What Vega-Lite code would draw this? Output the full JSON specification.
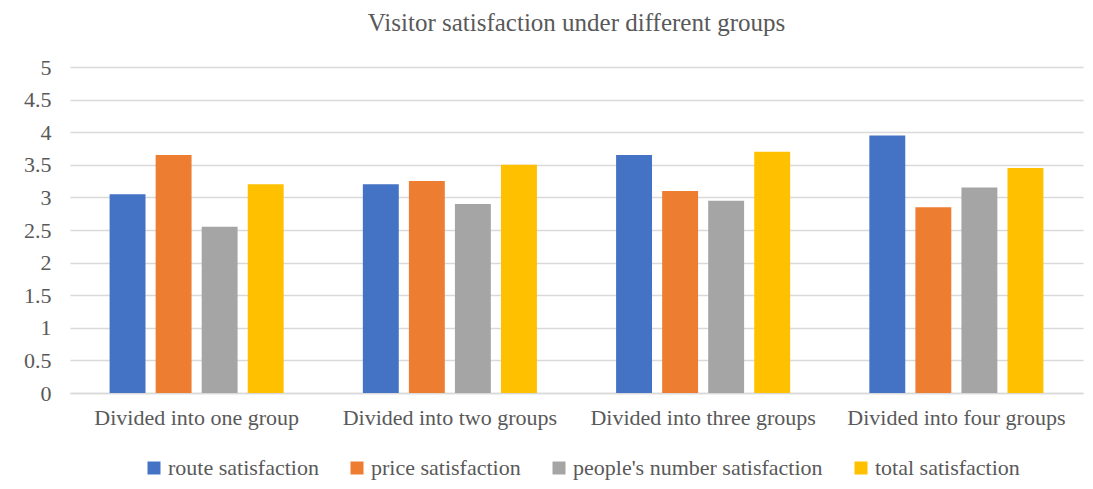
{
  "$schema": "https://vega.github.io/schema/vega-lite/v6.json",
  "width": 1013,
  "height": 326,
  "autosize": {"type": "none"},
  "padding": {"left": 70, "top": 67, "right": 10, "bottom": 96},
  "background": "white",
  "title": {
    "text": "Visitor satisfaction under different groups",
    "font": "Liberation Serif",
    "fontSize": 25,
    "fontWeight": "normal",
    "color": "#595959",
    "anchor": "middle",
    "offset": 20
  },
  "data": {
    "values": [
      {"group": "Divided into one group", "metric": "route satisfaction", "value": 3.05},
      {"group": "Divided into one group", "metric": "price satisfaction", "value": 3.65},
      {"group": "Divided into one group", "metric": "people's number satisfaction", "value": 2.55},
      {"group": "Divided into one group", "metric": "total satisfaction", "value": 3.2},
      {"group": "Divided into two groups", "metric": "route satisfaction", "value": 3.2},
      {"group": "Divided into two groups", "metric": "price satisfaction", "value": 3.25},
      {"group": "Divided into two groups", "metric": "people's number satisfaction", "value": 2.9},
      {"group": "Divided into two groups", "metric": "total satisfaction", "value": 3.5},
      {"group": "Divided into three groups", "metric": "route satisfaction", "value": 3.65},
      {"group": "Divided into three groups", "metric": "price satisfaction", "value": 3.1},
      {"group": "Divided into three groups", "metric": "people's number satisfaction", "value": 2.95},
      {"group": "Divided into three groups", "metric": "total satisfaction", "value": 3.7},
      {"group": "Divided into four groups", "metric": "route satisfaction", "value": 3.95},
      {"group": "Divided into four groups", "metric": "price satisfaction", "value": 2.85},
      {"group": "Divided into four groups", "metric": "people's number satisfaction", "value": 3.15},
      {"group": "Divided into four groups", "metric": "total satisfaction", "value": 3.45}
    ]
  },
  "mark": {"type": "bar"},
  "encoding": {
    "x": {
      "field": "group",
      "type": "nominal",
      "sort": null,
      "scale": {"paddingInner": 0, "paddingOuter": 0},
      "axis": {
        "title": null,
        "labelAngle": 0,
        "labelFont": "Liberation Serif",
        "labelFontSize": 22,
        "labelColor": "#595959",
        "labelPadding": 14,
        "labelLimit": 0,
        "ticks": false,
        "domainColor": "#d9d9d9",
        "domainWidth": 1.5,
        "grid": false
      }
    },
    "xOffset": {
      "field": "metric",
      "type": "nominal",
      "sort": ["route satisfaction", "price satisfaction", "people's number satisfaction", "total satisfaction"],
      "scale": {"paddingInner": 0.22, "paddingOuter": 0.86}
    },
    "y": {
      "field": "value",
      "type": "quantitative",
      "scale": {"domain": [0, 5]},
      "axis": {
        "title": null,
        "values": [0, 0.5, 1, 1.5, 2, 2.5, 3, 3.5, 4, 4.5, 5],
        "format": "~g",
        "labelFont": "Liberation Serif",
        "labelFontSize": 22,
        "labelColor": "#595959",
        "labelPadding": 19,
        "ticks": false,
        "domain": false,
        "gridColor": "#d9d9d9",
        "gridWidth": 1.5
      }
    },
    "color": {
      "field": "metric",
      "type": "nominal",
      "sort": ["route satisfaction", "price satisfaction", "people's number satisfaction", "total satisfaction"],
      "scale": {
        "domain": ["route satisfaction", "price satisfaction", "people's number satisfaction", "total satisfaction"],
        "range": ["#4472c4", "#ed7d31", "#a5a5a5", "#ffc000"]
      },
      "legend": {
        "title": null,
        "orient": "none",
        "legendX": 73,
        "legendY": 390,
        "direction": "horizontal",
        "symbolType": "square",
        "symbolSize": 169,
        "symbolStrokeWidth": 0,
        "labelFont": "Liberation Serif",
        "labelFontSize": 22,
        "labelColor": "#595959",
        "labelOffset": 3,
        "labelLimit": 0,
        "columnPadding": 27
      }
    }
  },
  "config": {
    "font": "Liberation Serif",
    "view": {"stroke": null}
  }
}
